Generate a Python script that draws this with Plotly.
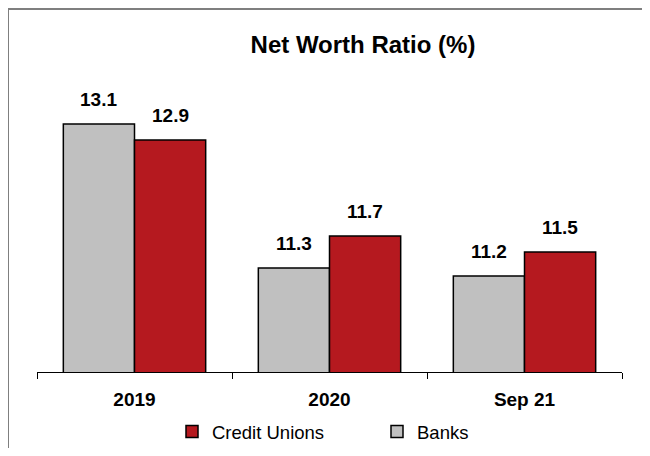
import plotly.graph_objects as go

categories = ["2019", "2020", "Sep 21"]
banks = [13.1, 11.3, 11.2]
credit_unions = [12.9, 11.7, 11.5]

BANKS_COLOR = "#c0c0c0"
CU_COLOR = "#b5191f"
FONT = "Liberation Sans, Arial, sans-serif"

# la page HTML ajoute une marge de 8 px autour de la figure :
# on réduit la figure pour éviter les barres de défilement
OFF = 8
W, H = 650 - 2 * OFF, 456 - 2 * OFF
PLOT_L, PLOT_R, PLOT_T, PLOT_B = 37, 622, 52, 372  # en pixels de la page
plot_w = PLOT_R - PLOT_L
plot_h = PLOT_B - PLOT_T

fig = go.Figure()

fig.add_trace(go.Bar(
    x=categories, y=banks, name="Banks",
    marker=dict(color=BANKS_COLOR, line=dict(color="black", width=1.5)),
))
fig.add_trace(go.Bar(
    x=categories, y=credit_unions, name="Credit Unions",
    marker=dict(color=CU_COLOR, line=dict(color="black", width=1.5)),
))

# valeurs au-dessus des barres (x = index de catégorie)
half_bar = 35.6
for i, (b, cu) in enumerate(zip(banks, credit_unions)):
    for val, shift in ((b, -half_bar), (cu, half_bar)):
        fig.add_annotation(
            x=i, y=val, text=f"{val:.1f}", showarrow=False,
            xshift=shift, yshift=12, yanchor="bottom",
            font=dict(size=19, color="black", family=FONT, weight="bold"),
        )

# cadre gris : seuls les bords haut et gauche sont visibles
fx0 = (OFF - PLOT_L) / plot_w
fy1 = (PLOT_B - OFF - 1) / plot_h
frame = dict(color="#7f7f7f", width=2)
fig.add_shape(type="line", xref="paper", yref="paper",
              x0=fx0, x1=1.2, y0=fy1, y1=fy1, line=frame)
fig.add_shape(type="line", xref="paper", yref="paper",
              x0=fx0, x1=fx0, y0=-0.6, y1=fy1, line=frame)

fig.update_layout(
    width=W, height=H,
    margin=dict(l=PLOT_L - OFF, r=W - (PLOT_R - OFF), t=PLOT_T - OFF,
                b=H - (PLOT_B - OFF), autoexpand=False),
    paper_bgcolor="white", plot_bgcolor="white",
    barmode="group", bargap=0.27, bargroupgap=0,
    title=dict(
        text="Net Worth Ratio (%)", x=(363 - OFF) / W, xanchor="center",
        y=1 - (45 - OFF) / H, yanchor="middle",
        font=dict(size=24, color="black", family=FONT, weight="bold"),
    ),
    font=dict(family=FONT, color="black"),
    showlegend=True,
    legend=dict(
        orientation="h", traceorder="reversed",
        x=(172 - PLOT_L) / plot_w, xanchor="left",
        y=(PLOT_B - 432) / plot_h, yanchor="middle",
        entrywidth=160, entrywidthmode="pixels",
        font=dict(size=18.5, color="black", family=FONT),
        bgcolor="rgba(0,0,0,0)",
    ),
    xaxis=dict(
        type="category", range=[-0.5, 2.5],
        showline=True, linecolor="black", linewidth=1,
        ticks="outside", tickson="boundaries", ticklen=6,
        tickcolor="black", tickwidth=1, ticklabelstandoff=10,
        tickfont=dict(size=19, color="black", family=FONT, weight="bold"),
        showgrid=False, fixedrange=True,
    ),
    yaxis=dict(
        range=[10, 14], visible=False, showgrid=False, zeroline=False,
    ),
)

fig.write_html("out.html")
